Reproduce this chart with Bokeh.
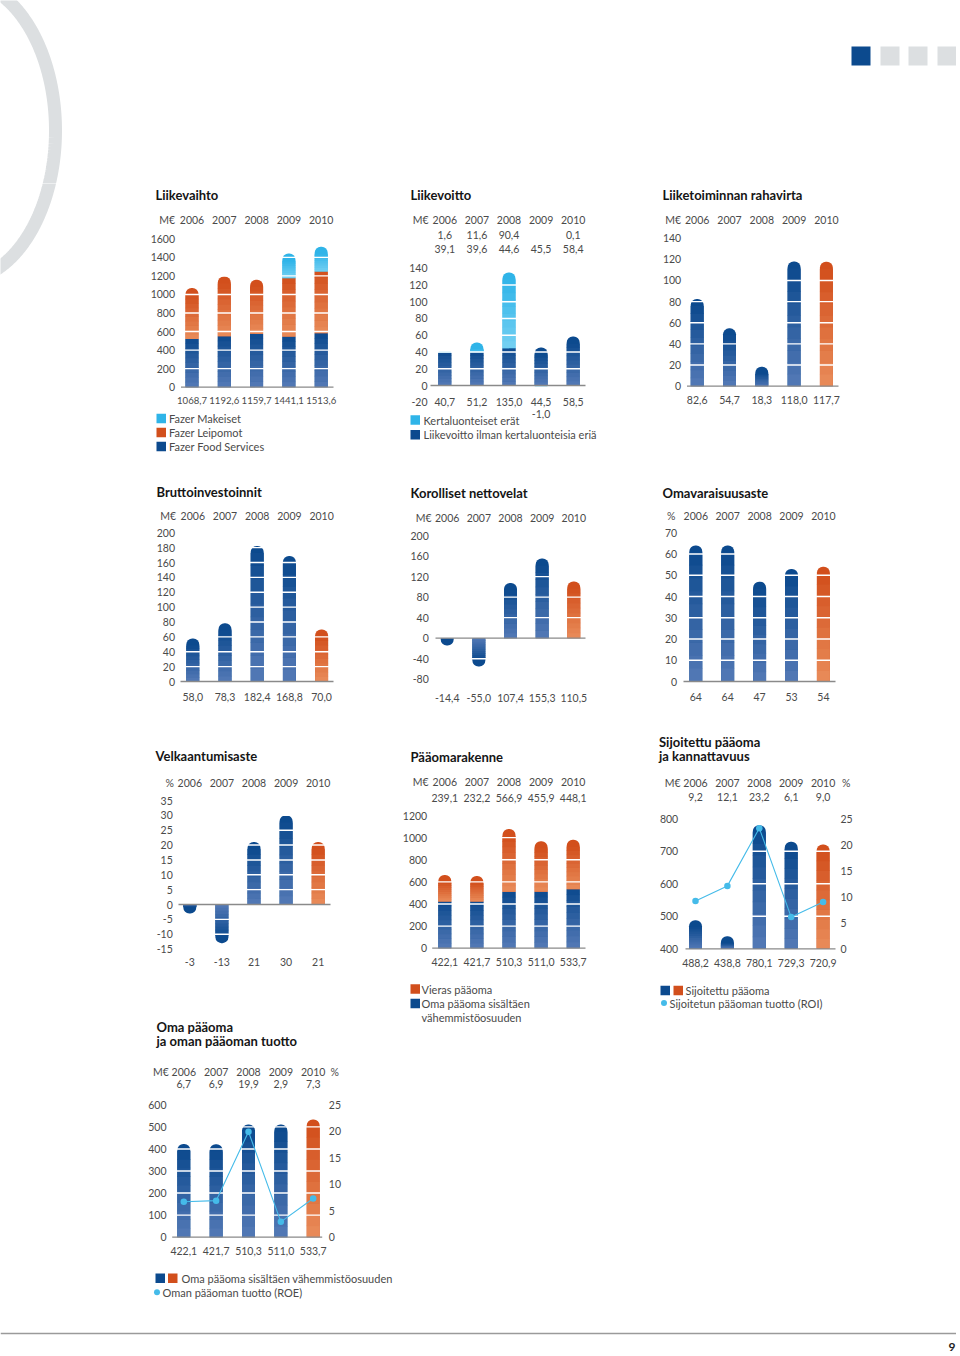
import numpy as np
from bokeh.plotting import figure
from bokeh.models import Range1d, LinearAxis, FixedTicker
from bokeh.layouts import column, row
from bokeh.embed import file_html
from bokeh.resources import INLINE
from bokeh.core.properties import value

# ---------------- data ----------------
years = ["2006", "2007", "2008", "2009", "2010"]

# Liikevaihto, M€ (segment split, totals = labels)
lv_food_services = [520.0, 550.0, 575.0, 546.0, 582.0]
lv_leipomot = [548.7, 642.6, 584.7, 630.0, 666.0]
lv_makeiset = [0.0, 0.0, 0.0, 265.1, 265.6]
lv_ticks = [0, 200, 400, 600, 800, 1000, 1200, 1400, 1600]

# Liikevoitto, M€
lo_kertaluonteiset = [1.6, 11.6, 90.4, -1.0, 0.1]
lo_ilman = [39.1, 39.6, 44.6, 45.5, 58.4]
lo_ticks = [-20, 0, 20, 40, 60, 80, 100, 120, 140]

# Liiketoiminnan rahavirta, M€
rv_values = [82.6, 54.7, 18.3, 118.0, 117.7]
rv_ticks = [0, 20, 40, 60, 80, 100, 120, 140]

# Bruttoinvestoinnit, M€
bi_values = [58.0, 78.3, 182.4, 168.8, 70.0]
bi_ticks = [0, 20, 40, 60, 80, 100, 120, 140, 160, 180, 200]

# Korolliset nettovelat, M€
kn_values = [-14.4, -55.0, 107.4, 155.3, 110.5]
kn_ticks = [-80, -40, 0, 40, 80, 120, 160, 200]

# Omavaraisuusaste, %
oa_values = [64, 64, 47, 53, 54]
oa_ticks = [0, 10, 20, 30, 40, 50, 60, 70]

# Velkaantumisaste, %
va_values = [-3, -13, 21, 30, 21]
va_ticks = [-15, -10, -5, 0, 5, 10, 15, 20, 25, 30, 35]

# Pääomarakenne, M€
pr_oma = [422.1, 421.7, 510.3, 511.0, 533.7]
pr_vieras = [239.1, 232.2, 566.9, 455.9, 448.1]
pr_ticks = [0, 200, 400, 600, 800, 1000, 1200]

# Sijoitettu pääoma (M€) ja ROI (%)
sp_values = [488.2, 438.8, 780.1, 729.3, 720.9]
sp_roi = [9.2, 12.1, 23.2, 6.1, 9.0]
sp_ticks = [400, 500, 600, 700, 800]
sp_pct_ticks = [0, 5, 10, 15, 20, 25]

# Oma pääoma (M€) ja ROE (%)
op_values = [422.1, 421.7, 510.3, 511.0, 533.7]
op_roe = [6.7, 6.9, 19.9, 2.9, 7.3]
op_ticks = [0, 100, 200, 300, 400, 500, 600]
op_pct_ticks = [0, 5, 10, 15, 20, 25]

# ---------------- style ----------------
FONT = "Lato"
NUM_FS = "10.5px"
LEG_FS = "11px"
TITLE_FS = "13px"
TXT = "#4a4a4a"
TITLE_C = "#151515"
BD, BL = "#0c4a8e", "#5479b6"      # blue dark / light
OD, OL = "#d24f1c", "#e98c5a"      # orange
CD, CL = "#2fb4e8", "#74d0f3"      # cyan
LINE_C = "#45bbe9"
GREY = "#dcdfe1"
BAR_W = 13
RAD = 6
NS = 10

AXIS = dict(axis_line_color=None, major_tick_line_color=None, minor_tick_line_color=None,
            major_tick_out=0, major_tick_in=0, major_label_standoff=3,
            major_label_text_font=FONT, major_label_text_font_size=NUM_FS,
            major_label_text_color=TXT)

idx = list(range(len(years)))


def fmt1(v):
    return f"{v:.1f}".replace(".", ",")


def mix(c1, c2, t):
    a = [int(c1[i:i + 2], 16) for i in (1, 3, 5)]
    b = [int(c2[i:i + 2], 16) for i in (1, 3, 5)]
    return "#%02x%02x%02x" % tuple(int(round(a[i] + (b[i] - a[i]) * t)) for i in range(3))


def base_fig(w, h, xr, yr):
    p = figure(width=w, height=h, x_range=xr, y_range=yr,
               x_axis_location=None, y_axis_location=None, title=None,
               toolbar_location=None, output_backend="svg", min_border=0,
               outline_line_color=None, background_fill_color="white",
               border_fill_color="white")
    p.grid.visible = False
    return p


def make_axis(ticks, loc, **kw):
    over = {t: str(t) for t in ticks if t < 0}
    return LinearAxis(fixed_location=loc, ticker=FixedTicker(ticks=list(ticks), minor_ticks=[]),
                      major_label_overrides=over, **AXIS, **kw)


class Chart:
    def __init__(self, cell, c0, dx, vref, pref, k, ticks, edge, base, pct=None):
        X0, Y0, W, H = cell
        self.c0, self.dx, self.k = c0, dx, k
        self.ticks, self.base, self.vref = ticks, base, vref
        p = base_fig(W, H, Range1d((X0 - c0) / dx, (X0 + W - c0) / dx),
                     Range1d(vref + (pref - (Y0 + H)) / k, vref + (pref - Y0) / k))
        yr = {"px": Range1d(Y0 + H, Y0)}
        if pct is not None:
            k2, pticks, redge = pct
            yr["pct"] = Range1d((pref - (Y0 + H)) / k2, (pref - Y0) / k2)
        p.extra_x_ranges = {"px": Range1d(X0, X0 + W)}
        p.extra_y_ranges = yr
        p.add_layout(make_axis(ticks, (edge + 3 - c0) / dx), "left")
        if pct is not None:
            p.add_layout(make_axis(pticks, (redge - 3 - c0) / dx, y_range_name="pct"), "right")
        self.p = p

    def bars(self, xs, bases, ends, light, dark, rounded):
        p, k = self.p, self.k
        w = BAR_W / self.dx
        groups = {"flat": ([], [], []), "up": ([], [], []), "down": ([], [], [])}
        sx, sb, st, sc = [], [], [], []
        for i, b, e, rd in zip(xs, bases, ends, rounded):
            L = e - b
            Lpx = abs(L) * k
            if Lpx < 0.05:
                continue
            key = "flat" if not rd else ("up" if L > 0 else "down")
            g = groups[key]
            g[0].append(i); g[1].append(min(b, e)); g[2].append(max(b, e))
            gl = Lpx - (RAD + 1 if rd else 0)
            if gl <= 1.5:
                continue
            fe = gl / Lpx
            ov = 0.6 / Lpx
            for j in range(NS):
                f0 = fe * j / NS
                f1 = fe * (j + 1) / NS + (ov if j < NS - 1 else 0)
                y0, y1 = b + L * f0, b + L * f1
                sx.append(i); sb.append(min(y0, y1)); st.append(max(y0, y1))
                sc.append(mix(light, dark, (j + 0.5) / NS))
        for key, rad in (("flat", 0), ("up", (RAD, RAD, 0, 0)), ("down", (0, 0, RAD, RAD))):
            g = groups[key]
            if g[0]:
                p.vbar(x=g[0], bottom=g[1], top=g[2], width=w, fill_color=dark,
                       line_color=None, border_radius=rad)
        if sx:
            p.vbar(x=sx, bottom=sb, top=st, width=w, fill_color=sc, line_color=None)

    def guides(self):
        xl, xr = self.base
        inner = [t for t in self.ticks if t != self.vref]
        self.p.segment(x0=[xl] * len(inner), x1=[xr] * len(inner), y0=inner, y1=inner,
                       x_range_name="px", line_color="white", line_width=1.4)
        self.p.segment(x0=[xl], x1=[xr], y0=[self.vref], y1=[self.vref],
                       x_range_name="px", line_color="#8a8a8a", line_width=1.3)

    def text(self, xs, ys, texts, xr="default", align="center", size=NUM_FS,
             color=TXT, style="normal"):
        self.p.text(x=list(xs), y=list(ys), text=list(texts), x_range_name=xr,
                    y_range_name="px", text_align=align, text_baseline="middle",
                    text_font=value(FONT), text_font_size=size, text_color=color,
                    text_font_style=style)

    def title(self, x, ys, lines):
        self.text([x] * len(lines), ys, lines, xr="px", align="left", size=TITLE_FS,
                  color=TITLE_C, style="bold")

    def header(self, y, unit, ux, pct_x=None):
        self.text(idx, [y] * len(idx), years)
        self.text([ux], [y], [unit], xr="px", align="right")
        if pct_x is not None:
            self.text([pct_x], [y], ["%"], xr="px", align="left")

    def row_vals(self, y, labels, xs=None, size=NUM_FS):
        xs = idx if xs is None else xs
        self.text(xs, [y] * len(xs), labels, size=size)

    def square(self, x, y, color, s=9.5):
        self.p.rect(x=[x + s / 2], y=[y], width=s, height=s, x_range_name="px",
                    y_range_name="px", fill_color=color, line_color=None)

    def dot(self, x, y):
        self.p.scatter(x=[x], y=[y], size=6, x_range_name="px", y_range_name="px",
                       fill_color=LINE_C, line_color=None)

    def legend_text(self, x, y, s):
        self.text([x], [y], [s], xr="px", align="left", size=LEG_FS)

    def line(self, vals):
        self.p.line(x=idx, y=vals, y_range_name="pct", line_color=LINE_C, line_width=1.1)
        self.p.scatter(x=idx, y=vals, y_range_name="pct", size=6.5, fill_color=LINE_C,
                       line_color=None)


def single(ch, vals, start=0, last_orange=True):
    bi = [i for i in idx if not (last_orange and i == idx[-1])]
    ch.bars(bi, [start] * len(bi), [vals[i] for i in bi], BL, BD, [True] * len(bi))
    if last_orange:
        i = idx[-1]
        ch.bars([i], [start], [vals[i]], OL, OD, [True])


# ---------------- charts (page pixel layout) ----------------
# 1 Liikevaihto
A = Chart((140, 183, 254, 287), 191.5, 32.3, 0, 386.7, 148.4 / 1600, lv_ticks, 174.5, (180.5, 333))
lv_fl = [a + b for a, b in zip(lv_food_services, lv_leipomot)]
lv_tot = [round(a + c, 1) for a, c in zip(lv_fl, lv_makeiset)]
A.bars(idx, [0] * 5, lv_food_services, BL, BD, [False] * 5)
A.bars(idx, lv_food_services, lv_fl, OL, OD, [m <= 0 for m in lv_makeiset])
mi = [i for i in idx if lv_makeiset[i] > 0]
A.bars(mi, [lv_fl[i] for i in mi], [lv_tot[i] for i in mi], CL, CD, [True] * len(mi))
A.guides()
A.title(155, [194], ["Liikevaihto"])
A.header(219, "M€", 174.5)
A.row_vals(400, [fmt1(v) for v in lv_tot], size="9.6px")
for y, c, s in ((418, CD, "Fazer Makeiset"), (432, OD, "Fazer Leipomot"), (446, BD, "Fazer Food Services")):
    A.square(156, y, c)
    A.legend_text(168.5, y, s)

# 2 Liikevoitto
B = Chart((394, 183, 254, 287), 444.3, 32.1, 0, 385, 117.3 / 140, lo_ticks, 427, (430, 585))
B.bars(idx, [0] * 5, lo_ilman, BL, BD, [kv <= 0.5 for kv in lo_kertaluonteiset])
pi = [i for i in idx if lo_kertaluonteiset[i] > 0]
B.bars(pi, [lo_ilman[i] for i in pi], [lo_ilman[i] + lo_kertaluonteiset[i] for i in pi], CL, CD, [True] * len(pi))
ni = [i for i in idx if lo_kertaluonteiset[i] < 0]
B.bars(ni, [0] * len(ni), [lo_kertaluonteiset[i] for i in ni], CL, CD, [True] * len(ni))
B.guides()
B.title(410, [194], ["Liikevoitto"])
B.header(219.3, "M€", 428)
B.row_vals(234.5, [fmt1(v) if v > 0 else "" for v in lo_kertaluonteiset])
B.row_vals(248, [fmt1(v) for v in lo_ilman])
lo_tot = [round(a + b, 1) for a, b in zip(lo_ilman, lo_kertaluonteiset)]
B.row_vals(401, [fmt1(v) for v in lo_tot])
B.row_vals(413, [fmt1(lo_kertaluonteiset[i]) for i in ni], xs=ni)
for y, c, s in ((419.5, CD, "Kertaluonteiset erät"), (434.3, BD, "Liikevoitto ilman kertaluonteisia eriä")):
    B.square(410, y, c)
    B.legend_text(423, y, s)

# 3 Liiketoiminnan rahavirta
C = Chart((648, 183, 254, 287), 696.7, 32.3, 0, 385.7, 148 / 140, rv_ticks, 680.7, (686.5, 838))
single(C, rv_values)
C.guides()
C.title(662, [194], ["Liiketoiminnan rahavirta"])
C.header(219.3, "M€", 680.5)
C.row_vals(399, [fmt1(v) for v in rv_values])

# 4 Bruttoinvestoinnit
D = Chart((140, 470, 254, 250), 192.3, 32.2, 0, 681, 148.7 / 200, bi_ticks, 174.5, (180, 333))
single(D, bi_values)
D.guides()
D.title(156, [491.5], ["Bruttoinvestoinnit"])
D.header(515, "M€", 175.5)
D.row_vals(696, [fmt1(v) for v in bi_values])

# 5 Korolliset nettovelat
E = Chart((394, 470, 254, 250), 446.7, 31.65, 0, 637.7, 102.7 / 200, kn_ticks, 428.3, (435, 585))
single(E, kn_values)
E.guides()
E.title(410, [492], ["Korolliset nettovelat"])
E.header(517.7, "M€", 431)
E.row_vals(697, [fmt1(v) for v in kn_values])

# 6 Omavaraisuusaste
F = Chart((648, 470, 254, 250), 695.3, 31.9, 0, 681, 148.7 / 70, oa_ticks, 676.7, (683, 835))
single(F, oa_values)
F.guides()
F.title(662, [492], ["Omavaraisuusaste"])
F.header(515.7, "%", 675)
F.row_vals(696.7, [str(v) for v in oa_values])

# 7 Velkaantumisaste
G = Chart((140, 720, 254, 285), 189.3, 32.1, 0, 904, 104 / 35, va_ticks, 172.3, (178, 330))
single(G, va_values)
G.guides()
G.title(155, [755], ["Velkaantumisaste"])
G.header(782.7, "%", 173.3)
G.row_vals(961.7, [str(v) for v in va_values])

# 8 Pääomarakenne
H = Chart((394, 720, 254, 310), 444.3, 32.1, 0, 947.7, 132.7 / 1200, pr_ticks, 426.7, (431.7, 585))
pr_tot = [a + b for a, b in zip(pr_oma, pr_vieras)]
H.bars(idx, [0] * 5, pr_oma, BL, BD, [False] * 5)
H.bars(idx, pr_oma, pr_tot, OL, OD, [True] * 5)
H.guides()
H.title(410, [756], ["Pääomarakenne"])
H.header(781.7, "M€", 428)
H.row_vals(797.3, [fmt1(v) for v in pr_vieras])
H.row_vals(961, [fmt1(v) for v in pr_oma])
H.square(410, 988.5, OD)
H.legend_text(421, 988.5, "Vieras pääoma")
H.square(410, 1003, BD)
H.legend_text(421, 1003, "Oma pääoma sisältäen")
H.legend_text(421, 1016.5, "vähemmistöosuuden")

# 9 Sijoitettu pääoma ja kannattavuus
I = Chart((648, 720, 254, 310), 695, 31.9, 400, 948.3, 130 / 400, sp_ticks, 677.7, (685, 835),
          pct=(130 / 25, sp_pct_ticks, 840))
single(I, sp_values, start=sp_ticks[0])
I.guides()
I.line(sp_roi)
I.title(658.5, [741, 755.5], ["Sijoitettu pääoma", "ja kannattavuus"])
I.header(782.3, "M€", 680, pct_x=841.5)
I.row_vals(796.7, [fmt1(v) for v in sp_roi])
I.row_vals(962.3, [fmt1(v) for v in sp_values])
I.square(660, 990, BD)
I.square(673, 990, OD)
I.legend_text(685, 990, "Sijoitettu pääoma")
I.dot(663.5, 1002.5)
I.legend_text(669, 1002.5, "Sijoitetun pääoman tuotto (ROI)")

# 10 Oma pääoma ja oman pääoman tuotto
J = Chart((140, 1005, 254, 305), 183.3, 32.35, 0, 1236.7, 132.4 / 600, op_ticks, 166, (171.7, 321.7),
          pct=(132.4 / 25, op_pct_ticks, 328.3))
single(J, op_values)
J.guides()
J.line(op_roe)
J.title(156, [1026, 1040.5], ["Oma pääoma", "ja oman pääoman tuotto"])
J.header(1071, "M€", 168.3, pct_x=330)
J.row_vals(1083.3, [fmt1(v) for v in op_roe])
J.row_vals(1250, [fmt1(v) for v in op_values])
J.square(155, 1277.7, BD)
J.square(167.5, 1277.7, OD)
J.legend_text(181, 1277.7, "Oma pääoma sisältäen vähemmistöosuuden")
J.dot(156.5, 1291.7)
J.legend_text(162, 1291.7, "Oman pääoman tuotto (ROE)")

# ---------------- page decoration ----------------
t = np.linspace(-np.pi / 2, np.pi / 2, 160)
arc_x = -40 + 95 * np.cos(t)
arc_y = 130 + 150 * np.sin(t)

top = base_fig(956, 183, Range1d(0, 956), Range1d(183, 0))
top.line(arc_x, arc_y, line_width=13, line_color=GREY)
top.quad(left=[851, 880, 908, 937], right=[870, 899, 927, 956], top=[46] * 4, bottom=[65] * 4,
         fill_color=[BD, GREY, GREY, GREY], line_color=None)

left = base_fig(140, 1127, Range1d(0, 140), Range1d(1310, 183))
left.line(arc_x, arc_y, line_width=13, line_color=GREY)

bottom = base_fig(956, 42, Range1d(0, 956), Range1d(1352, 1310))
bottom.segment(x0=[0], x1=[956], y0=[1333], y1=[1333], line_color="#9a9a9a", line_width=1.5)
bottom.text(x=[955], y=[1346], text=["9"], text_align="right", text_baseline="middle",
            text_font=value(FONT), text_font_size="12px", text_color="#222222",
            text_font_style="bold")

col1 = column(A.p, D.p, G.p, J.p)
col2 = column(B.p, E.p, H.p)
col3 = column(C.p, F.p, I.p)
layout = column(top, row(left, col1, col2, col3), bottom)

open("out.html", "w").write(file_html(layout, INLINE))
